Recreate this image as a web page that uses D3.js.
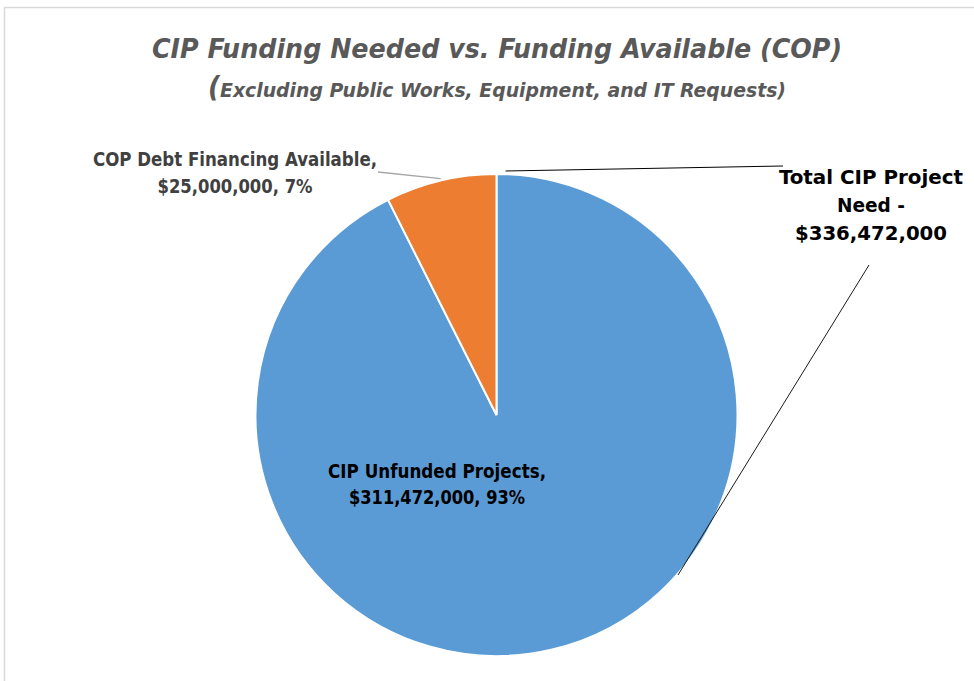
<!DOCTYPE html>
<html>
<head>
<meta charset="utf-8">
<script src="https://cdn.jsdelivr.net/npm/d3@7"></script>
<style>
  body { margin: 0; background: #fff; }
  svg { display: block; }
  text { font-family: "Liberation Sans Narrow", "DejaVu Sans Condensed", "Open Sans", sans-serif; }
</style>
</head>
<body>
<script>
// data
var categories = ["CIP Unfunded Projects", "COP Debt Financing Available"];
var values = [311472000, 25000000];
var percents = ["93%", "7%"];
var colors = ["#5b9bd5", "#ed7d31"];
var totalLabel = ["Total CIP Project", "Need -", "$336,472,000"];

var width = 974, height = 681;
var cx = 496.5, cy = 415, radius = 241;

var svg = d3.select("body").append("svg")
    .attr("width", width)
    .attr("height", height);

// chart frame
svg.append("rect")
    .attr("x", 4.5).attr("y", 7.5)
    .attr("width", width + 20).attr("height", height + 20)
    .attr("fill", "none")
    .attr("stroke", "#d9d9d9")
    .attr("stroke-width", 1.5);

// fit text to a given width
function fit(sel, w) {
    sel.attr("textLength", w).attr("lengthAdjust", "spacingAndGlyphs");
}

// titles
svg.append("text")
    .attr("x", 497).attr("y", 58)
    .attr("text-anchor", "middle")
    .attr("font-size", 27)
    .attr("font-weight", "bold")
    .attr("font-style", "italic")
    .attr("fill", "#595959")
    .text("CIP Funding Needed vs. Funding Available (COP)")
    .call(fit, 690);

var sub = svg.append("text")
    .attr("x", 497).attr("y", 97)
    .attr("text-anchor", "middle")
    .attr("font-weight", "bold")
    .attr("font-style", "italic")
    .attr("fill", "#595959");
sub.append("tspan").attr("font-size", 28).text("(");
sub.append("tspan").attr("font-size", 20).text("Excluding Public Works, Equipment, and IT Requests)");
sub.call(fit, 578);

// pie
var pie = d3.pie().sort(null).value(d => d);
var arcs = pie(values);
var arc = d3.arc().innerRadius(0).outerRadius(radius);

var g = svg.append("g").attr("transform", "translate(" + cx + "," + cy + ")");
g.selectAll("path")
    .data(arcs)
    .enter()
    .append("path")
    .attr("d", arc)
    .attr("fill", (d, i) => colors[i])
    .attr("stroke", "#fff")
    .attr("stroke-width", 2);

// leader line for the small slice
var cop = arcs[1];
var mid = (cop.startAngle + cop.endAngle) / 2;
var edge = [cx + radius * Math.sin(mid), cy - radius * Math.cos(mid)];
svg.append("line")
    .attr("x1", 378).attr("y1", 172)
    .attr("x2", edge[0]).attr("y2", edge[1] - 2)
    .attr("stroke", "#a6a6a6")
    .attr("stroke-width", 1.3);

// total annotation lines
svg.append("line")
    .attr("x1", cx + 9).attr("y1", cy - radius - 3)
    .attr("x2", 783).attr("y2", 166)
    .attr("stroke", "#000").attr("stroke-width", 1);
svg.append("line")
    .attr("x1", 869).attr("y1", 265)
    .attr("x2", 678).attr("y2", 575)
    .attr("stroke", "#1a1a1a").attr("stroke-width", 1);

// labels
function fmt(v) { return "$" + d3.format(",")(v); }

var lab1 = svg.append("text")
    .attr("text-anchor", "middle")
    .attr("font-size", 19)
    .attr("font-weight", "bold")
    .attr("fill", "#000");
lab1.append("tspan").attr("x", 437).attr("y", 478).text(categories[0] + ",")
    .call(fit, 218);
lab1.append("tspan").attr("x", 437).attr("y", 504).text(fmt(values[0]) + ", " + percents[0])
    .call(fit, 176);

var lab2 = svg.append("text")
    .attr("text-anchor", "middle")
    .attr("font-size", 19)
    .attr("font-weight", "bold")
    .attr("fill", "#404040");
lab2.append("tspan").attr("x", 235).attr("y", 166).text(categories[1] + ",")
    .call(fit, 284);
lab2.append("tspan").attr("x", 235).attr("y", 193).text(fmt(values[1]) + ", " + percents[1])
    .call(fit, 155);

var lab3 = svg.append("text")
    .attr("text-anchor", "middle")
    .attr("font-size", 20)
    .attr("font-weight", "bold")
    .attr("fill", "#000");
var tw = [184, 68, 152];
totalLabel.forEach((t, i) => {
    lab3.append("tspan").attr("x", 871).attr("y", 184 + i * 28).text(t).call(fit, tw[i]);
});
</script>
</body>
</html>
